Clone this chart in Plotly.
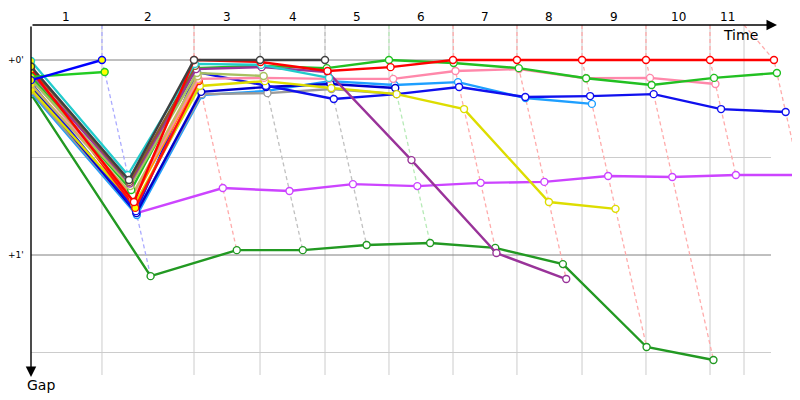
import plotly.graph_objects as go

# ---------------- data ----------------
# leader's cumulative race time (s) when each lap (0..11) is completed
leader_time = [0.0, 97.1, 223.0, 313.3, 402.2, 489.7, 577.3, 664.8, 753.8, 841.3, 928.9, 1016.4]
# time marks of the lap boundaries drawn as vertical grid lines (laps 1..11)
lap_grid = [97.1, 223.0, 313.3, 402.2, 489.7, 577.3, 664.8, 753.8, 841.3, 928.9, 975.4]
lap_labels = ["1", "2", "3", "4", "5", "6", "7", "8", "9", "10", "11"]
time_axis_end = 1012.3
gap_major = [0, 60]
gap_major_labels = ["+0'", "+1'"]
gap_minor = [30, 90]

N = None
# gap to the leader (s) at the end of laps 0..11
gaps_fgreen = [10.5, 66.5, 58.5, 58.5, 56.9, 56.3, 57.8, 62.8, 88.3, 92.3, N, N]
gaps_violet = [8.5, 47.1, 39.4, 40.3, 38.2, 38.8, 37.8, 37.5, 35.7, 36.0, 35.4, 35.4]
gaps_lblue = [10.0, 47.7, 10.8, 9.5, 6.5, 7.7, 6.8, 11.7, 13.5, N, N, N]
gaps_gray = [9.5, 46.8, 10.5, 10.2, 8.9, 10.5, N, N, N, N, N, N]
gaps_tan = [8.8, 45.0, 7.5, N, N, N, N, N, N, N, N, N]
gaps_blueb = [8.0, 47.1, 9.8, 8.3, 7.4, 8.6, N, N, N, N, N, N]
gaps_bluea = [7.0, 46.5, 3.7, 8.0, 12.0, 10.5, 8.3, 11.4, 11.1, 10.5, 15.1, 16.0]
gaps_yellow = [9.0, 44.5, 8.0, 6.5, 8.6, 10.5, 15.1, 43.7, 45.8, N, N, N]
gaps_red2 = [3.1, 45.5, 6.5, N, N, N, N, N, N, N, N, N]
gaps_orange = [4.8, 43.0, 6.0, N, N, N, N, N, N, N, N, N]
gaps_pink = [5.5, 42.0, 5.8, 5.5, 5.8, 5.8, 3.4, 2.8, 5.6, 5.5, 7.4, N]
gaps_khaki = [7.5, 41.5, 5.0, N, N, N, N, N, N, N, N, N]
gaps_green = [5.2, 40.0, 2.5, 1.8, 2.5, 0.0, 0.9, 2.5, 5.6, 7.7, 5.5, 4.0]
gaps_olive = [6.0, 38.8, 4.0, 4.9, N, N, N, N, N, N, N, N]
gaps_purple = [4.0, 38.0, 2.8, 2.2, 3.7, 30.8, 59.4, 67.4, N, N, N, N]
gaps_brown = [2.5, 37.5, 1.8, N, N, N, N, N, N, N, N, N]
gaps_cyan = [0.3, 35.4, 1.2, 1.5, 5.5, N, N, N, N, N, N, N]
gaps_red = [3.0, 43.7, 0.0, 0.6, 3.4, 2.2, 0.0, 0.0, 0.0, 0.0, 0.0, 0.0]
gaps_black = [2.0, 36.9, 0.0, 0.0, 0.0, N, N, N, N, N, N, N]
gaps_green1 = [5.2, 3.7, N, N, N, N, N, N, N, N, N, N]
gaps_blue1 = [6.2, 0.0, N, N, N, N, N, N, N, N, N, N]

series = [
    ("fgreen", gaps_fgreen), ("violet", gaps_violet), ("lblue", gaps_lblue),
    ("gray", gaps_gray), ("tan", gaps_tan), ("blueb", gaps_blueb),
    ("bluea", gaps_bluea), ("yellow", gaps_yellow), ("red2", gaps_red2),
    ("orange", gaps_orange), ("pink", gaps_pink), ("khaki", gaps_khaki),
    ("green", gaps_green), ("olive", gaps_olive), ("purple", gaps_purple),
    ("brown", gaps_brown), ("cyan", gaps_cyan), ("red", gaps_red),
    ("black", gaps_black), ("green1", gaps_green1), ("blue1", gaps_blue1),
]
# (car, lap) points drawn with a yellow filled marker
yellow_marks = [("blue1", 1), ("green1", 1), ("red2", 1), ("red2", 2)]

# ---------------- style ----------------
colors = {
    "fgreen": "#229922", "violet": "#cc44ff", "lblue": "#1e9fff", "gray": "#999999",
    "tan": "#d2a060", "blueb": "#0000cc", "bluea": "#1010ee", "yellow": "#dddd00",
    "red2": "#ff1010", "orange": "#ff9900", "pink": "#ff88aa", "khaki": "#c8b560",
    "green": "#22c022", "olive": "#a8c060", "purple": "#993399", "brown": "#8b5a2b",
    "cyan": "#22cccc", "red": "#ff0000", "black": "#404040", "green1": "#22cc22",
    "blue1": "#0000ff",
}

X_MAX = 1052.0
Y_TOP, Y_BOT = -10.77, 96.92
FONT = "DejaVu Sans"
# the page body has an 8px margin; margins below compensate for it
ML, MT = 23, 17
PW, PH = 769, 350
FIG_W, FIG_H = 800, 400


def lighten(hexc, f=0.67):
    h = hexc.lstrip("#")
    r, g, b = (int(h[i:i + 2], 16) for i in (0, 2, 4))
    r, g, b = (round(c + (255 - c) * f) for c in (r, g, b))
    return "#%02x%02x%02x" % (r, g, b)


fig = go.Figure()

# lap lines (dashed, connecting every car's crossing of the same lap)
for n in range(1, len(leader_time)):
    pts = [(g[n], name) for name, g in series if g[n] is not None]
    pts.sort(key=lambda p: p[0])
    leader = pts[0][1]
    xs = [lap_grid[n - 1]] + [leader_time[n] + p[0] for p in pts]
    ys = [Y_TOP] + [p[0] for p in pts]
    fig.add_trace(go.Scatter(
        x=xs, y=ys, mode="lines",
        line=dict(color=lighten(colors[leader]), width=1.3, dash="4px,3px"),
        hoverinfo="skip", showlegend=False))

# cars
ymarks = set(yellow_marks)
for name, g in series:
    xs, ys, fills = [], [], []
    for n, v in enumerate(g):
        if v is None:
            xs.append(None)
            ys.append(None)
            fills.append("white")
            continue
        xs.append(leader_time[n] + (v if n > 0 else 0.0))
        ys.append(v)
        fills.append("#ffff00" if (n == 0 or (name, n) in ymarks) else "white")
    fig.add_trace(go.Scatter(
        x=xs, y=ys, mode="lines+markers", name=name,
        line=dict(color=colors[name], width=2.4),
        marker=dict(size=7, color=fills, line=dict(color=colors[name], width=1.4)),
        showlegend=False))

shapes = []
for t in lap_grid:
    shapes.append(dict(type="line", xref="x", yref="paper", x0=t, x1=t, y0=0, y1=1,
                       line=dict(color="#cccccc", width=1), layer="below"))
for gv in gap_minor:
    shapes.append(dict(type="line", xref="x", yref="y", x0=0, x1=time_axis_end, y0=gv, y1=gv,
                       line=dict(color="#cccccc", width=1), layer="below"))
for gv in gap_major:
    shapes.append(dict(type="line", xref="x", yref="y", x0=0, x1=time_axis_end, y0=gv, y1=gv,
                       line=dict(color="#808080", width=1), layer="below"))

ann = []
# lap numbers
starts = [0.0] + lap_grid[:-1]
for a, b, lab in zip(starts, lap_grid, lap_labels):
    ann.append(dict(x=(a + b) / 2, y=1, xref="x", yref="paper", text=lab, showarrow=False,
                    yshift=8, yanchor="middle", font=dict(family=FONT, size=12, color="#000")))
for gv, lab in zip(gap_major, gap_major_labels):
    ann.append(dict(x=0, y=gv, xref="paper", yref="y", text=lab, showarrow=False,
                    xanchor="right", xshift=-5, yanchor="middle",
                    font=dict(family=FONT, size=9, color="#000")))
# axis arrows
ann.append(dict(x=746 / PW, y=1, xref="paper", yref="paper", text="",
                showarrow=True, ax=-746, ay=0, axref="pixel", ayref="pixel",
                arrowhead=2, arrowsize=1.5, arrowwidth=1.4, arrowcolor="#000", standoff=0))
ann.append(dict(x=0, y=-2 / PH, xref="paper", yref="paper", text="",
                showarrow=True, ax=0, ay=-352, axref="pixel", ayref="pixel",
                arrowhead=2, arrowsize=1.5, arrowwidth=1.4, arrowcolor="#000", standoff=0))
ann.append(dict(x=729 / PW, y=1, xref="paper", yref="paper", text="Time",
                showarrow=False, yshift=-10, yanchor="middle",
                font=dict(family=FONT, size=14, color="#000")))
ann.append(dict(x=0, y=0, xref="paper", yref="paper", text="Gap",
                showarrow=False, xshift=-6, yshift=-10, yanchor="middle",
                font=dict(family=FONT, size=14, color="#000")))

fig.update_layout(
    width=FIG_W, height=FIG_H,
    margin=dict(l=ML, r=FIG_W - ML - PW, t=MT, b=FIG_H - MT - PH, pad=0),
    paper_bgcolor="white", plot_bgcolor="white",
    xaxis=dict(range=[0, X_MAX], visible=False, fixedrange=True),
    yaxis=dict(range=[Y_BOT, Y_TOP], visible=False, fixedrange=True),
    shapes=shapes, annotations=ann, showlegend=False,
)

fig.write_html("out.html")
